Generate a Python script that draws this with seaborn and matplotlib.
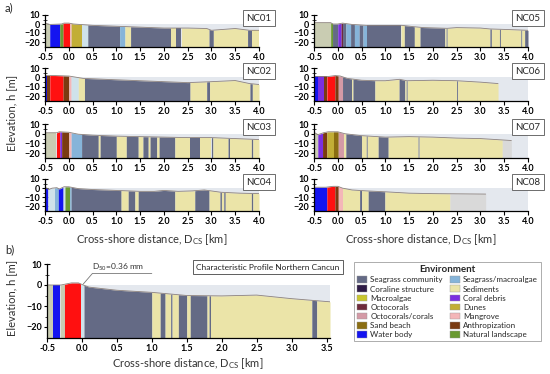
import numpy as np
import matplotlib
matplotlib.use("Agg")
import matplotlib.pyplot as plt
from matplotlib.patches import Patch
import seaborn as sns

sns.set_theme(style="ticks")
plt.rcParams['font.family'] = ['Lato', 'DejaVu Sans']
plt.rcParams['mathtext.fontset'] = 'custom'
plt.rcParams['mathtext.rm'] = 'Lato'

# ---------------- data ----------------
env_names = ['Seagrass community', 'Coraline structure', 'Macroalgae', 'Octocorals',
             'Octocorals/corals', 'Sand beach', 'Water body', 'Seagrass/macroalgae',
             'Sediments', 'Coral debris', 'Dunes', 'Mangrove', 'Anthropization',
             'Natural landscape']
env_colors = ['#646a85', '#2d1a45', '#c9c62e', '#6e2a3c', '#d49aa6', '#8a6d12', '#1414f0',
              '#86b4d9', '#ebe4a8', '#7b2fe0', '#c2ae36', '#f4b6b8', '#7a3b12', '#6a9a32']
extra_names = ['urban', 'pale', 'light', 'gray']
extra_colors = ['#ff1010', '#c9ccb2', '#cfe2ea', '#d9d9d9']

SG, SED, SGM = 'Seagrass community', 'Sediments', 'Seagrass/macroalgae'
WAT, NAT, MAN = 'Water body', 'Natural landscape', 'Mangrove'
ANT, DEB, OCT, OCC = 'Anthropization', 'Coral debris', 'Octocorals', 'Octocorals/corals'
DUN, SAND = 'Dunes', 'Sand beach'

nc01_edges = [-0.5, -0.4, -0.19, -0.12, 0.02, 0.05, 0.27, 0.4, 1.07, 1.18, 1.3, 2.16, 2.25,
              2.37, 2.95, 3.04, 3.76, 3.85, 4.0]
nc01_env = ['pale', WAT, NAT, 'urban', MAN, DUN, 'light', SG, SGM, SED, SG, SED, SG, SED,
            SG, SED, SG, SED]
nc01_x = [-0.5, -0.4, -0.15, -0.1, 0.0, 0.1, 0.5, 1.0, 1.5, 2.0, 2.5, 2.9, 3.0, 3.5, 3.8, 4.0]
nc01_h = [1, -0.5, 0, 1, 1, 0, -1.5, -2.5, -3.5, -4.5, -4.5, -5, -7, -5, -7, -7]

nc02_edges = [-0.5, -0.45, -0.4, -0.12, 0.0, 0.05, 0.2, 0.33, 2.55, 2.9, 2.96, 3.81, 3.86, 4.0]
nc02_env = [WAT, ANT, 'urban', ANT, MAN, 'light', SED, SG, SED, SG, SED, SG, SED]
nc02_x = [-0.5, -0.3, 0.0, 0.3, 1.0, 1.5, 2.0, 2.5, 3.0, 3.5, 3.8, 4.0]
nc02_h = [2, 2, 1.5, -1, -2.5, -3.5, -4.5, -5.5, -4.5, -3.3, -6.5, -7.5]

nc03_edges = [-0.5, -0.26, -0.19, -0.15, 0.0, 0.05, 0.27, 0.62, 0.66, 1.0, 1.21, 1.46, 1.56,
              1.67, 1.71, 1.85, 1.9, 2.23, 2.55, 2.76, 3.0, 3.03, 3.35, 3.38, 3.84, 3.87, 4.0]
nc03_env = ['pale', 'urban', DEB, ANT, MAN, SGM, SG, SED, SG, SED, SG, SED, SG, SED, SG, SED,
            SG, SED, SG, SED, SG, SED, SG, SED, SG, SED]
nc03_x = [-0.5, -0.25, -0.2, 0.0, 0.2, 0.5, 1.0, 1.5, 2.0, 2.5, 3.0, 3.5, 4.0]
nc03_h = [1, 1, 2, 1.5, -0.5, -1.5, -2.5, -3, -3.5, -4, -4, -5, -6]

nc04_edges = [-0.5, -0.44, -0.3, -0.22, -0.12, -0.08, 0.02, 0.05, 1.1, 1.25, 1.39, 1.46, 2.23,
              2.65, 2.95, 3.18, 3.21, 3.26, 3.29, 3.84, 3.87, 4.0]
nc04_env = [WAT, 'light', SGM, WAT, 'light', NAT, SGM, SG, SED, SG, SED, SG, SED, SG, SED, SG,
            SED, SG, SED, SG, SED]
nc04_x = [-0.5, -0.42, -0.35, -0.25, -0.2, -0.1, 0.0, 0.2, 0.5, 1.0, 1.5, 1.8, 2.0, 2.3, 2.6,
          2.85, 3.2, 3.6, 4.0]
nc04_h = [1, -1.5, 0, 0.5, -1, 1.5, 1.5, -0.5, -1.5, -2.5, -3.5, -3.5, -2.5, -3.5, -3, -2,
          -4.5, -5.5, -6]

nc05_edges = [-0.5, -0.15, -0.11, 0.0, 0.07, 0.1, 0.17, 0.27, 0.35, 0.45, 0.53, 0.62, 1.33,
              1.4, 1.61, 1.73, 2.25, 2.28, 2.3, 3.2, 3.23, 3.4, 3.42, 3.85, 3.87, 3.93, 4.0]
nc05_env = ['pale', NAT, SG, DEB, OCT, SG, SGM, SG, SGM, SG, SGM, SG, SED, SG, SED, SG, SED,
            SG, SED, SG, SED, SG, SED, SG, SED, SG]
nc05_x = [-0.5, -0.15, -0.1, 0.0, 0.1, 0.3, 0.6, 1.0, 1.35, 1.6, 1.8, 2.3, 2.5, 3.0, 3.2,
          3.5, 4.0]
nc05_h = [1.5, 1.5, 0, 0, 1, -0.5, -1.5, -1.5, -1.5, -3, -4, -4.8, -4, -4.5, -5.5, -6, -7]

nc06_edges = [-0.5, -0.41, -0.3, -0.23, -0.06, 0.01, 0.1, 0.29, 0.32, 0.78, 1.29, 1.41, 1.44,
              1.46, 2.5, 2.52, 3.37]
nc06_env = [WAT, DEB, ANT, 'urban', ANT, OCC, SG, SED, SG, SED, SG, SED, SG, SED, SG, SED]
nc06_x = [-0.5, -0.2, -0.05, 0.05, 0.2, 0.5, 0.8, 1.0, 1.3, 1.45, 2.0, 2.5, 3.0, 3.37]
nc06_h = [1, 1, 2, 1.5, -1, -3, -3.5, -3.5, -2, -3.5, -3, -3.5, -5, -6.5]

nc07_edges = [-0.5, -0.42, -0.32, -0.23, -0.09, 0.01, 0.12, 0.17, 0.5, 0.6, 0.62, 0.85, 1.06,
              1.69, 1.71, 3.46, 3.65]
nc07_env = ['pale', DEB, ANT, DUN, SAND, OCC, SED, SG, SED, SG, SED, SG, SED, SG, SED, 'gray']
nc07_x = [-0.5, -0.42, -0.3, -0.2, 0.0, 0.15, 0.5, 1.0, 1.5, 2.0, 2.5, 3.0, 3.65]
nc07_h = [1.5, -1, 1, 2, 2, 0, -2, -3.5, -3, -3.5, -4.5, -5, -7]

nc08_edges = [-0.5, -0.23, -0.06, 0.01, 0.1, 0.46, 0.5, 0.64, 0.99, 2.36, 3.11]
nc08_env = [WAT, 'urban', ANT, MAN, SED, SG, SED, SG, SED, 'gray']
nc08_x = [-0.5, -0.25, -0.1, 0.0, 0.1, 0.3, 0.6, 1.0, 1.5, 2.0, 3.11]
nc08_h = [1, 1, 2, 2, 0, -2, -3, -4, -5.5, -6, -6.5]

b_edges = [-0.5, -0.42, -0.31, -0.25, -0.02, 0.03, 1.0, 1.12, 1.19, 1.27, 1.29, 1.38, 1.5,
           1.55, 1.79, 1.82, 1.84, 3.29, 3.36, 3.55]
b_env = ['pale', WAT, 'pale', 'urban', 'light', SG, SED, SG, SED, SG, SED, SG, SED, SG, SED,
         SG, SED, SG, SED]
b_x = [-0.5, -0.3, -0.15, -0.05, 0.02, 0.1, 0.5, 1.0, 1.5, 2.0, 2.5, 3.0, 3.55]
b_h = [0, 0, 1, 1, 0, -1, -2.5, -3.5, -5, -5.2, -4.8, -6.5, -8]

profile_names = ['NC01', 'NC02', 'NC03', 'NC04', 'NC05', 'NC06', 'NC07', 'NC08']
x_ticks = [-0.5, 0.0, 0.5, 1.0, 1.5, 2.0, 2.5, 3.0, 3.5, 4.0]
y_ticks = [-20, -10, 0, 10]

COL = dict(zip(env_names + extra_names, env_colors + extra_colors))
BG = '#e4e8ee'

W, H = 550, 374
fig = plt.figure(figsize=(W / 100, H / 100), dpi=100)


def add_ax(x0, x1, ytop, ybot):
    return fig.add_axes([x0 / W, 1 - ybot / H, (x1 - x0) / W, (ybot - ytop) / H])


def draw(ax, edges, envs, px, ph, xmax, ticks):
    px = np.asarray(px, float)
    ph = np.asarray(ph, float)
    ax.fill_between([-0.5, xmax], -25, 0, color=BG, lw=0, zorder=0)
    for x0, x1, e in zip(edges[:-1], edges[1:], envs):
        inner = px[(px > x0) & (px < x1)]
        xs = np.concatenate([[x0], inner, [x1]])
        hs = np.interp(xs, px, ph)
        ax.fill_between(xs, -25, hs, color=COL[e], lw=0, zorder=1)
    sns.lineplot(x=px, y=ph, ax=ax, color='#8c817c', lw=0.6, zorder=2)
    ax.set_xlim(-0.5, xmax)
    ax.set_ylim(-25, 10)
    ax.set_xticks(ticks)
    ax.set_xticklabels([f'{t:.1f}' for t in ticks])
    ax.set_yticks(y_ticks)
    ax.set_yticks([-15, -5, 5], minor=True)
    ax.tick_params(axis='both', labelsize=6.5, width=0.8, colors='black', pad=1.5)
    ax.tick_params(axis='x', direction='out', length=3)
    ax.tick_params(axis='y', direction='inout', length=4)
    ax.tick_params(axis='y', which='minor', direction='inout', length=2.5, width=0.6)
    for lab in ax.get_xticklabels() + ax.get_yticklabels():
        lab.set_fontweight('bold')
    sns.despine(ax=ax)
    for s in ['left', 'bottom']:
        ax.spines[s].set_color('black')
        ax.spines[s].set_linewidth(0.9)
    ax.set_facecolor('none')
    ax.set_xlabel('')
    ax.set_ylabel('')


profiles = [(nc01_edges, nc01_env, nc01_x, nc01_h), (nc02_edges, nc02_env, nc02_x, nc02_h),
            (nc03_edges, nc03_env, nc03_x, nc03_h), (nc04_edges, nc04_env, nc04_x, nc04_h),
            (nc05_edges, nc05_env, nc05_x, nc05_h), (nc06_edges, nc06_env, nc06_x, nc06_h),
            (nc07_edges, nc07_env, nc07_x, nc07_h), (nc08_edges, nc08_env, nc08_x, nc08_h)]
rows = [(15, 46.5), (68, 101), (124, 158), (179, 211)]
cols = [(45, 259), (314, 528)]

for i, (name, prof) in enumerate(zip(profile_names, profiles)):
    c, r = divmod(i, 4)
    ax = add_ax(cols[c][0], cols[c][1], rows[r][0], rows[r][1])
    draw(ax, *prof, 4.0, x_ticks)
    ax.text(1.0, 0.9, name, transform=ax.transAxes, ha='center', va='center', fontsize=7,
            zorder=10, clip_on=False,
            bbox=dict(boxstyle='square,pad=0.35', fc='white', ec='#555555', lw=0.6))

# panel b
axb = add_ax(47, 330, 264, 337.5)
draw(axb, b_edges, b_env, b_x, b_h, 3.55, x_ticks[:-1])
axb.plot([0.02, 0.15, 1.0], [0.5, 5.5, 5.5], color='#777777', lw=0.6, zorder=3)
axb.text(0.52, 8.3, 'D$_{50}$=0.36 mm', fontsize=6, ha='center', va='center', color='#333333')

# text
fig.text(5 / W, 1 - 8 / H, 'a)', fontsize=8, va='center')
fig.text(5 / W, 1 - 250 / H, 'b)', fontsize=8, va='center')
fig.text(12 / W, 1 - 113 / H, 'Elevation, h [m]', rotation=90, ha='center', va='center',
         fontsize=8, color='#333333')
fig.text(12 / W, 1 - 298 / H, 'Elevation, h [m]', rotation=90, ha='center', va='center',
         fontsize=8, color='#333333')
xl = 'Cross-shore distance, D$_{\\mathrm{CS}}$ [km]'
fig.text(152 / W, 1 - 240 / H, xl, ha='center', va='center', fontsize=8, color='#333333')
fig.text(421 / W, 1 - 240 / H, xl, ha='center', va='center', fontsize=8, color='#333333')
fig.text(188 / W, 1 - 364 / H, xl, ha='center', va='center', fontsize=8, color='#333333')
fig.text(268 / W, 1 - 267 / H, 'Characteristic Profile Northern Cancun', ha='center',
         va='center', fontsize=6, color='#222222',
         bbox=dict(boxstyle='square,pad=0.4', fc='white', ec='#444444', lw=0.6))

handles = [Patch(facecolor=c, edgecolor='#999999', lw=0.3, label=n)
           for n, c in zip(env_names, env_colors)]
leg = fig.legend(handles=handles, ncol=2, loc='upper left',
                 bbox_to_anchor=(350 / W, 1 - 352 / H, 195 / W, 94 / H), mode='expand',
                 fontsize=5.8, title='Environment', title_fontproperties={'weight': 'bold', 'size': 7},
                 frameon=True, fancybox=False, edgecolor='#888888', handlelength=1.2,
                 handleheight=0.9, labelspacing=0.25, columnspacing=0.6, borderpad=0.4,
                 handletextpad=0.4)
leg.get_frame().set_linewidth(0.6)

fig.savefig('out.png', dpi=100)
